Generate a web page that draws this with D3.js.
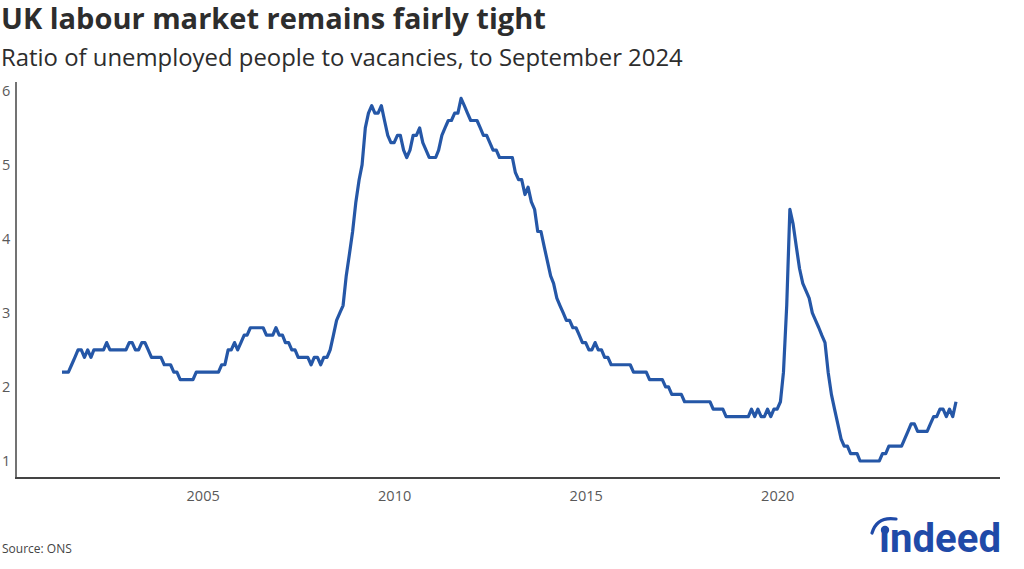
<!DOCTYPE html>
<html>
<head>
<meta charset="utf-8">
<script src="https://cdn.jsdelivr.net/npm/d3@7"></script>
<style>
  html, body { margin: 0; padding: 0; background: #fff; }
  svg { display: block; }
</style>
</head>
<body>
<svg id="chart" width="1024" height="569"></svg>
<script>
// ---- Data ----
const titleText = "UK labour market remains fairly tight";
const subtitleText = "Ratio of unemployed people to vacancies, to September 2024";
const sourceText = "Source: ONS";
const startMonth = "2001-05";   // first monthly observation
const ratio = [
  2.2,2.2,2.2,2.3,2.4,2.5,2.5,2.4,2.5,2.4,
  2.5,2.5,2.5,2.5,2.6,2.5,2.5,2.5,2.5,2.5,
  2.5,2.6,2.6,2.5,2.5,2.6,2.6,2.5,2.4,2.4,
  2.4,2.4,2.3,2.3,2.3,2.2,2.2,2.1,2.1,2.1,
  2.1,2.1,2.2,2.2,2.2,2.2,2.2,2.2,2.2,2.2,
  2.3,2.3,2.5,2.5,2.6,2.5,2.6,2.7,2.7,2.8,
  2.8,2.8,2.8,2.8,2.7,2.7,2.7,2.8,2.7,2.7,
  2.6,2.6,2.5,2.5,2.4,2.4,2.4,2.4,2.3,2.4,
  2.4,2.3,2.4,2.4,2.5,2.7,2.9,3.0,3.1,3.5,
  3.8,4.1,4.5,4.8,5.0,5.5,5.7,5.8,5.7,5.7,
  5.8,5.6,5.4,5.3,5.3,5.4,5.4,5.2,5.1,5.2,
  5.4,5.4,5.5,5.3,5.2,5.1,5.1,5.1,5.2,5.4,
  5.5,5.6,5.6,5.7,5.7,5.9,5.8,5.7,5.6,5.6,
  5.6,5.5,5.4,5.4,5.3,5.2,5.2,5.1,5.1,5.1,
  5.1,5.1,4.9,4.8,4.8,4.6,4.7,4.5,4.4,4.1,
  4.1,3.9,3.7,3.5,3.4,3.2,3.1,3.0,2.9,2.9,
  2.8,2.8,2.7,2.6,2.6,2.5,2.5,2.6,2.5,2.5,
  2.4,2.4,2.3,2.3,2.3,2.3,2.3,2.3,2.3,2.2,
  2.2,2.2,2.2,2.2,2.1,2.1,2.1,2.1,2.1,2.0,
  2.0,1.9,1.9,1.9,1.9,1.8,1.8,1.8,1.8,1.8,
  1.8,1.8,1.8,1.8,1.7,1.7,1.7,1.7,1.6,1.6,
  1.6,1.6,1.6,1.6,1.6,1.6,1.7,1.6,1.7,1.6,
  1.6,1.7,1.6,1.7,1.7,1.8,2.2,3.1,4.4,4.2,
  3.9,3.6,3.4,3.3,3.2,3.0,2.9,2.8,2.7,2.6,
  2.2,1.9,1.7,1.5,1.3,1.2,1.2,1.1,1.1,1.1,
  1.0,1.0,1.0,1.0,1.0,1.0,1.0,1.1,1.1,1.2,
  1.2,1.2,1.2,1.2,1.3,1.4,1.5,1.5,1.4,1.4,
  1.4,1.4,1.5,1.6,1.6,1.7,1.7,1.6,1.7,1.6,1.8
];
const xTickYears = [2005, 2010, 2015, 2020];
const yTicks = [1, 2, 3, 4, 5, 6];

// ---- Build ----
const parseMonth = d3.timeParse("%Y-%m");
const start = parseMonth(startMonth);
const series = ratio.map((v, i) => ({ date: d3.timeMonth.offset(start, i), value: v }));

const svg = d3.select("#chart");
const plot = { left: 16, right: 1000, top: 82, bottom: 478 };

const x = d3.scaleTime()
  .domain([series[0].date, series[series.length - 1].date])
  .range([62, 956]);

const y = d3.scaleLinear()
  .domain([0.77, 6.12])
  .range([plot.bottom, plot.top]);

const font = "'Open Sans', 'Noto Sans', sans-serif";

// Title and subtitle
svg.append("text")
  .attr("x", 1).attr("y", 29)
  .attr("font-family", font).attr("font-weight", 700)
  .attr("font-size", 29).attr("fill", "#2d2d2d")
  .text(titleText);

svg.append("text")
  .attr("x", 1).attr("y", 66)
  .attr("font-family", font).attr("font-weight", 400)
  .attr("font-size", 23.9).attr("fill", "#2d2d2d")
  .text(subtitleText);

// Y axis (labels only + line)
const yAxis = d3.axisLeft(y).tickValues(yTicks).tickSize(0).tickPadding(0).tickFormat(d3.format("d"));
const gy = svg.append("g").attr("transform", `translate(${plot.left},0)`).call(yAxis);
gy.select(".domain").remove();
gy.selectAll("text")
  .attr("x", -14).attr("text-anchor", "start")
  .attr("font-family", font).attr("font-size", 14.5).attr("fill", "#595959");

svg.append("line")
  .attr("x1", plot.left).attr("x2", plot.left)
  .attr("y1", plot.top).attr("y2", plot.bottom)
  .attr("stroke", "#444").attr("stroke-width", 1.5);

// X axis
const xAxis = d3.axisBottom(x)
  .tickValues(xTickYears.map(yr => new Date(yr, 0, 1)))
  .tickSize(0).tickPadding(13)
  .tickFormat(d3.timeFormat("%Y"));
const gx = svg.append("g").attr("transform", `translate(0,${plot.bottom})`).call(xAxis);
gx.select(".domain").remove();
gx.selectAll("text")
  .attr("font-family", font).attr("font-size", 14.5).attr("fill", "#595959");

svg.append("line")
  .attr("x1", plot.left - 1).attr("x2", plot.right)
  .attr("y1", plot.bottom).attr("y2", plot.bottom)
  .attr("stroke", "#444").attr("stroke-width", 2);

// Line
const line = d3.line().x(d => x(d.date)).y(d => y(d.value));
svg.append("path")
  .datum(series)
  .attr("d", line)
  .attr("fill", "none")
  .attr("stroke", "#2557a7")
  .attr("stroke-width", 3.2)
  .attr("stroke-linejoin", "round");

// Source
svg.append("text")
  .attr("x", 2).attr("y", 553)
  .attr("font-family", font).attr("font-size", 12).attr("fill", "#444")
  .text(sourceText);

// Indeed logo
const logoColor = "#1f4aa8";
const logo = svg.append("g");
logo.append("text")
  .attr("x", 879).attr("y", 552)
  .attr("font-family", "Roboto, 'Open Sans', sans-serif")
  .attr("font-weight", 700).attr("font-size", 40)
  .attr("fill", logoColor)
  .attr("textLength", 122).attr("lengthAdjust", "spacingAndGlyphs")
  .text("\u0131ndeed");
logo.append("circle")
  .attr("cx", 885).attr("cy", 530).attr("r", 4.2)
  .attr("fill", logoColor);
logo.append("path")
  .attr("d", "M872,533 Q877,516 896,519")
  .attr("fill", "none").attr("stroke", logoColor)
  .attr("stroke-width", 3.2).attr("stroke-linecap", "round");
</script>
</body>
</html>
